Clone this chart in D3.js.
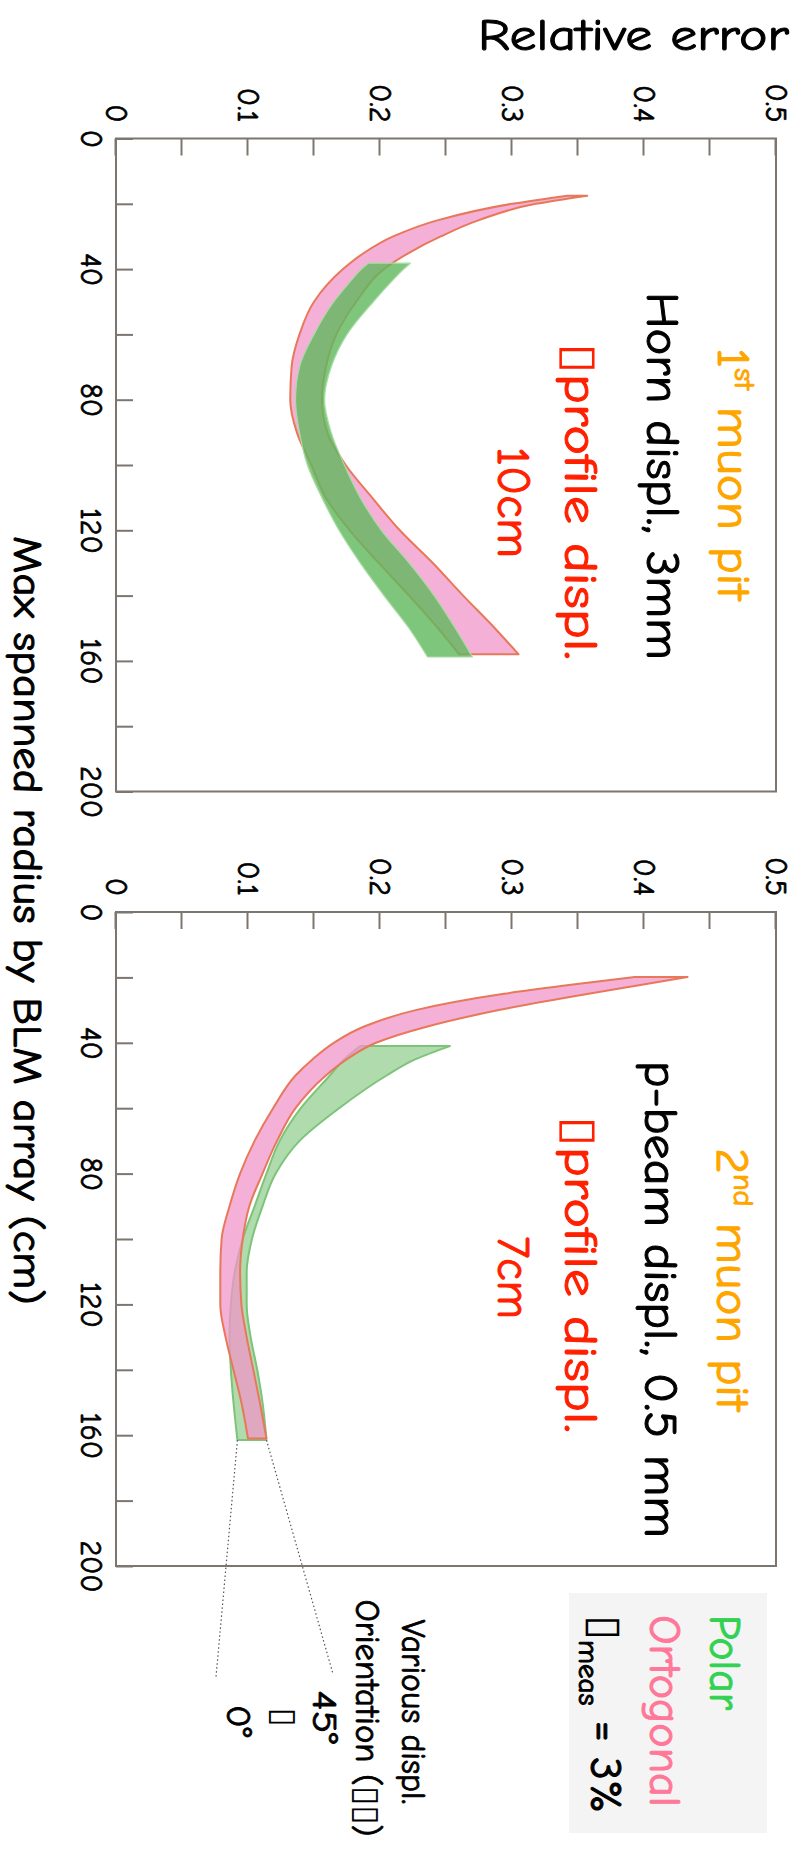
<!DOCTYPE html>
<html><head><meta charset="utf-8">
<script src="https://cdn.jsdelivr.net/npm/d3@7"></script>
<style>body{margin:0;background:#fff}svg{display:block}</style>
</head><body>
<script>
// ---------- axis ticks ----------
const errMajorTicks = [0, 0.1, 0.2, 0.3, 0.4, 0.5];
const errMinorTicks = [0.05, 0.15, 0.25, 0.35, 0.45];
const radMajorTicks = [0, 40, 80, 120, 160, 200];
const radMinorTicks = [20, 60, 100, 140, 180];

// ---------- 1st muon pit ----------
const p1OrtR    = [17.5, 20, 25, 30, 35, 40, 50, 60, 70, 80, 90, 100, 110, 120, 130, 140, 150, 158];
const p1OrtLow  = [0.342, 0.300, 0.244, 0.210, 0.188, 0.172, 0.150, 0.139, 0.133, 0.132, 0.137, 0.148, 0.159, 0.177, 0.199, 0.222, 0.244, 0.260];
const p1OrtHigh = [0.357, 0.318, 0.275, 0.246, 0.222, 0.203, 0.182, 0.167, 0.159, 0.156, 0.160, 0.174, 0.194, 0.215, 0.240, 0.263, 0.287, 0.305];

const p1PolR    = [38.2, 40, 45, 50, 60, 70, 80, 90, 100, 110, 120, 130, 140, 150, 158.8];
const p1PolLow  = [0.191, 0.186, 0.175, 0.165, 0.150, 0.139, 0.136, 0.139, 0.145, 0.156, 0.169, 0.185, 0.203, 0.222, 0.236];
const p1PolHigh = [0.223, 0.218, 0.206, 0.195, 0.175, 0.163, 0.158, 0.163, 0.173, 0.185, 0.201, 0.222, 0.241, 0.257, 0.270];

// ---------- 2nd muon pit ----------
const p2OrtR    = [19.9, 22.5, 25, 30, 35, 40, 45, 50, 60, 70, 80, 90, 100, 110, 120, 130, 140, 150, 161];
const p2OrtLow  = [0.393, 0.340, 0.294, 0.227, 0.188, 0.165, 0.149, 0.136, 0.119, 0.105, 0.094, 0.086, 0.080, 0.079, 0.079, 0.083, 0.089, 0.095, 0.100];
const p2OrtHigh = [0.433, 0.395, 0.358, 0.290, 0.236, 0.197, 0.175, 0.159, 0.136, 0.122, 0.111, 0.101, 0.096, 0.094, 0.095, 0.099, 0.104, 0.109, 0.114];

const p2PolR    = [41, 45, 50, 60, 70, 80, 90, 100, 110, 120, 130, 140, 150, 161.5];
const p2PolLow  = [0.185, 0.173, 0.162, 0.140, 0.124, 0.114, 0.105, 0.096, 0.090, 0.087, 0.086, 0.087, 0.089, 0.092];
const p2PolHigh = [0.253, 0.227, 0.205, 0.169, 0.139, 0.121, 0.111, 0.103, 0.099, 0.099, 0.102, 0.107, 0.111, 0.114];

// ---------- styling ----------
const FONT = "'Comic Sans MS','Comic Neue','Noto Sans','DejaVu Sans',sans-serif";
const AXC = "#7d766e";
const PINK = "#f096c8", PINK_S = "#e8785a", GREEN = "#5fb85c";
const ORANGE = "#ffa500", RED = "#ff2000";

const W = 798, H = 1856;
const svg = d3.select("body").append("svg").attr("width", W).attr("height", H);
// whole chart is drawn in an unrotated frame and turned 90 degrees clockwise
const g = svg.append("g").attr("transform", `translate(${W},0) rotate(90)`);

const yE = d3.scaleLinear().domain([0, 0.5]).range([682, 22]);

function bandData(r, lo, hi) { return r.map((v, i) => ({r: v, lo: lo[i], hi: hi[i]})); }

function addText(parent, parts, opt) {
  const col = opt.fill || "#000";
  const grp = parent.append("g");
  const t = grp.append("text").attr("font-family", FONT).attr("font-size", opt.size)
    .attr("fill", col).attr("stroke", col).attr("stroke-width", opt.sw !== undefined ? opt.sw : 1)
    .attr("x", 0).attr("y", 0);
  parts.forEach(p => {
    const ts = t.append("tspan").text(p.t);
    if (p.size) ts.attr("font-size", p.size);
    if (p.dy) ts.attr("dy", p.dy);
    if (p.box) ts.attr("stroke-width", 0);
  });
  const w = t.node().getComputedTextLength();
  const len = opt.len || w;
  const start = opt.start !== undefined ? opt.start : opt.center - len / 2;
  grp.attr("transform", `translate(${start},${opt.v}) scale(${len / w},1)`);
  return grp;
}

function styleAxisText(sel) {
  sel.selectAll("text").attr("font-family", FONT).attr("font-size", 30).attr("fill", "#000")
    .attr("stroke", "#000").attr("stroke-width", 0.7);
}

function panel(u0, u1, bands) {
  const x = d3.scaleLinear().domain([0, 200]).range([u0, u1]);
  const pg = g.append("g");
  bands.forEach(b => {
    const area = d3.area().x(d => x(d.r)).y0(d => yE(d.lo)).y1(d => yE(d.hi)).curve(d3.curveMonotoneX);
    pg.append("path").attr("d", area(b.data)).attr("fill", b.fill).attr("fill-opacity", b.op)
      .attr("stroke", b.stroke).attr("stroke-width", b.sw).attr("stroke-linejoin", "round");
  });
  // error axis (left in unrotated frame)
  const aE = pg.append("g").attr("transform", `translate(${u0},0)`)
    .call(d3.axisLeft(yE).tickValues(errMajorTicks.concat(errMinorTicks)).tickSize(-17).tickPadding(16)
      .tickFormat(d => errMajorTicks.includes(d) ? (d === 0 ? "0" : d3.format(".1f")(d)) : ""));
  aE.select(".domain").remove();
  aE.selectAll(".tick line").attr("stroke", AXC).attr("stroke-width", 2);
  styleAxisText(aE);
  // radius axis (bottom in unrotated frame)
  const aR = pg.append("g").attr("transform", `translate(0,682)`)
    .call(d3.axisBottom(x).tickValues(radMajorTicks.concat(radMinorTicks)).tickSize(-17).tickPadding(14)
      .tickFormat(d => radMajorTicks.includes(d) ? String(d) : ""));
  aR.select(".domain").remove();
  aR.selectAll(".tick line").attr("stroke", AXC).attr("stroke-width", 2);
  styleAxisText(aR);
  pg.append("rect").attr("x", u0).attr("y", 22).attr("width", u1 - u0).attr("height", 660)
    .attr("fill", "none").attr("stroke", AXC).attr("stroke-width", 2);
  return {x, pg};
}

const P1 = panel(138.5, 791.5, [
  {data: bandData(p1OrtR, p1OrtLow, p1OrtHigh), fill: PINK, op: 0.75, stroke: PINK_S, sw: 2},
  {data: bandData(p1PolR, p1PolLow, p1PolHigh), fill: GREEN, op: 0.8, stroke: "#a8dca4", sw: 1.2}
]);
const P2 = panel(912, 1566, [
  {data: bandData(p2PolR, p2PolLow, p2PolHigh), fill: GREEN, op: 0.5, stroke: "#7cc47a", sw: 2},
  {data: bandData(p2OrtR, p2OrtLow, p2OrtHigh), fill: PINK, op: 0.75, stroke: PINK_S, sw: 2}
]);

// panel annotations
addText(g, [{t: "1"}, {t: "st", size: 28, dy: -17}, {t: " muon pit", dy: 17}], {size: 46, fill: ORANGE, start: 348, len: 252, v: 80});
addText(g, [{t: "Horn displ., 3mm"}], {size: 46, start: 292, len: 368, v: 151});
addText(g, [{t: "▯", box: true}, {t: "profile displ."}], {size: 46, fill: RED, start: 343, len: 317, v: 233});
addText(g, [{t: "10cm"}], {size: 46, fill: RED, start: 447, len: 111, v: 300});

addText(g, [{t: "2"}, {t: "nd", size: 28, dy: -17}, {t: " muon pit", dy: 17}], {size: 46, fill: ORANGE, start: 1148, len: 263, v: 81});
addText(g, [{t: "p-beam displ., 0.5 mm"}], {size: 46, start: 1061, len: 477, v: 153});
addText(g, [{t: "▯", box: true}, {t: "profile displ."}], {size: 46, fill: RED, start: 1116, len: 317, v: 233});
addText(g, [{t: "7cm"}], {size: 46, fill: RED, start: 1236, len: 83, v: 300});

// legend
g.append("rect").attr("x", 1593).attr("y", 31).attr("width", 240).attr("height", 198).attr("fill", "#f4f4f4");
addText(g, [{t: "Polar"}], {size: 44, fill: "#33d152", start: 1615, len: 95, v: 88});
addText(g, [{t: "Ortogonal"}], {size: 44, fill: "#ff7799", start: 1615, len: 192, v: 148});
addText(g, [{t: "▯", box: true}, {t: "meas", size: 28, dy: 12}, {t: " = 3%", dy: -12}], {size: 44, start: 1615, len: 198, v: 207});

// orientation annotation
addText(g, [{t: "Various displ."}], {size: 34, center: 1712, len: 185, v: 396, sw: 0.8});
addText(g, [{t: "Orientation ("}, {t: "▯▯", box: true}, {t: ")"}], {size: 34, center: 1718, len: 237, v: 442, sw: 0.8});
addText(g, [{t: "45°"}], {size: 34, center: 1717, len: 53, v: 485, sw: 0.8});
addText(g, [{t: "▯", box: true}], {size: 34, center: 1717, v: 525, sw: 0});
addText(g, [{t: "0°"}], {size: 34, center: 1721, len: 32, v: 571, sw: 0.8});

const lastPol = p2PolR.length - 1;
[[p2PolLow[lastPol], 1677, 582], [p2PolHigh[lastPol], 1674, 465]].forEach(([e, u, v]) => {
  g.append("line").attr("x1", P2.x(p2PolR[lastPol])).attr("y1", yE(e)).attr("x2", u).attr("y2", v)
    .attr("stroke", "#555").attr("stroke-width", 1.2).attr("stroke-dasharray", "1.5,2.5");
});

// axis titles
addText(g, [{t: "Max spanned radius by BLM array (cm)"}], {size: 40, start: 536, len: 769, v: 784});
addText(svg, [{t: "Relative error"}], {size: 44, start: 478, len: 311, v: 50});
</script>
</body></html>
